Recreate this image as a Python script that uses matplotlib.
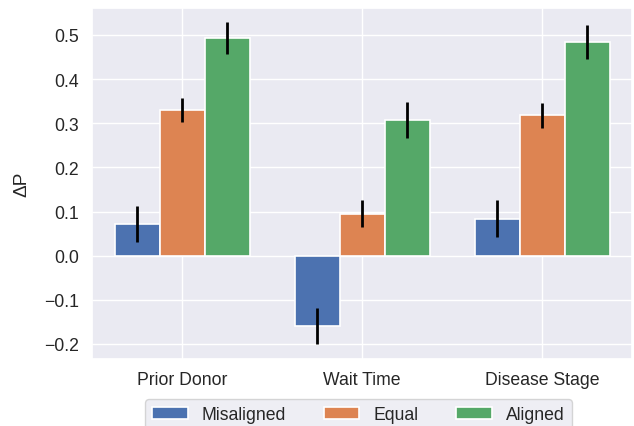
import numpy as np
import matplotlib
matplotlib.use("Agg")
import matplotlib.pyplot as plt
import seaborn as sns

categories = ["Prior Donor", "Wait Time", "Disease Stage"]
series_names = ["Misaligned", "Equal", "Aligned"]

misaligned = [0.071, -0.159, 0.084]
equal = [0.330, 0.095, 0.318]
aligned = [0.493, 0.307, 0.484]

misaligned_err = [0.041, 0.040, 0.041]
equal_err = [0.028, 0.030, 0.028]
aligned_err = [0.037, 0.041, 0.038]

sns.set_theme(style="darkgrid")
plt.rcParams["font.family"] = ["Liberation Sans", "DejaVu Sans"]

fig = plt.figure(figsize=(6.34, 4.27), dpi=100)
ax = fig.add_axes([92 / 634, 67 / 427, 540 / 634, 351 / 427])

colors = sns.color_palette("deep")[:3]
x = np.arange(len(categories))
width = 0.25
values = [misaligned, equal, aligned]
errors = [misaligned_err, equal_err, aligned_err]

for i, (vals, errs, name) in enumerate(zip(values, errors, series_names)):
    pos = x + (i - 1) * width
    ax.bar(pos, vals, width, color=colors[i], edgecolor="white", linewidth=1.2, label=name)
    ax.errorbar(pos, vals, yerr=errs, fmt="none", ecolor="black", elinewidth=2, capsize=0)

fs = 12.7
ax.set_xticks(x)
ax.set_xticklabels(categories, fontsize=fs)
ax.tick_params(axis="x", pad=3)
ax.tick_params(axis="y", labelsize=fs)
ax.set_xlim(-0.5, 2.5)
ax.set_ylim(-0.234, 0.561)
ax.set_ylabel("ΔP", fontsize=fs + 1, labelpad=10)

ax.legend(loc="upper center", bbox_to_anchor=(0.4935, -0.09), ncol=3, fontsize=fs,
          columnspacing=2.15, frameon=True)

fig.savefig("out.png", dpi=100)
